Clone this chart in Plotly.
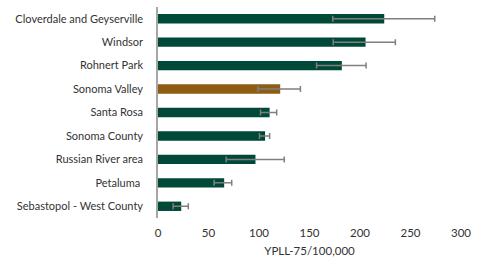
import plotly.graph_objects as go

categories = ["Cloverdale and Geyserville", "Windsor", "Rohnert Park", "Sonoma Valley",
              "Santa Rosa", "Sonoma County", "Russian River area", "Petaluma ",
              "Sebastopol - West County"]
values = [224, 205.5, 182, 121, 110.5, 106, 96.5, 65.5, 23]
lower = [173, 173.5, 157, 99, 101.5, 100.5, 67.5, 55.5, 15]
upper = [274, 235, 206, 141, 117.5, 110.5, 125, 73, 30]
colors = ["#004838"] * 9
colors[3] = "#8C5D12"
x_ticks = [0, 50, 100, 150, 200, 250, 300]

err_plus = [u - v for u, v in zip(upper, values)]
err_minus = [v - l for v, l in zip(values, lower)]

fig = go.Figure(go.Bar(
    x=values, y=categories, orientation="h",
    marker=dict(color=colors, line=dict(width=0)),
    error_x=dict(type="data", symmetric=False, array=err_plus, arrayminus=err_minus,
                 color="#7f7f7f", thickness=1.5, width=3),
))

fig.update_layout(
    width=485, height=267,
    margin=dict(l=158, r=24, t=7, b=49),
    paper_bgcolor="white", plot_bgcolor="white",
    bargap=0.6,
    showlegend=False,
    font=dict(family="Lato", size=11, color="#333333"),
)
fig.update_xaxes(range=[0, 300], tickvals=x_ticks, showgrid=False, zeroline=False,
                 showline=False, ticks="", ticklabelstandoff=6,
                 title=dict(text="YPLL-75/100,000", standoff=9, font=dict(size=11.5)),
                 tickfont=dict(size=11.5))
fig.update_yaxes(categoryorder="array", categoryarray=categories, autorange="reversed",
                 showline=True, linecolor="#a6a6a6", linewidth=1.5, showgrid=False,
                 ticks="", ticklabelstandoff=11)

fig.write_html("out.html")
